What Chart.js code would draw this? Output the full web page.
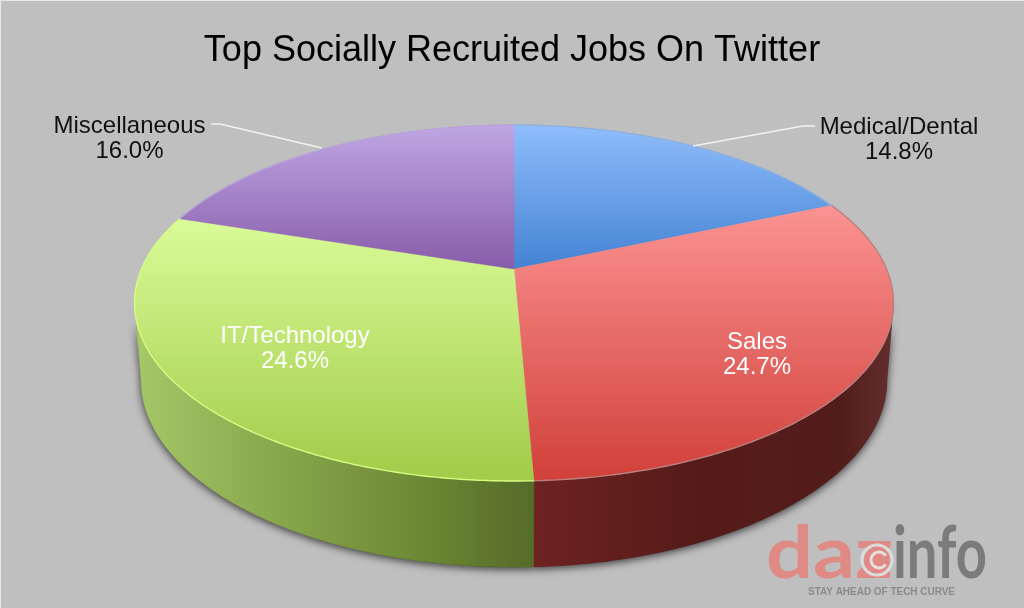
<!DOCTYPE html>
<html><head><meta charset="utf-8">
<style>html,body{margin:0;padding:0;background:#e8e8e8;overflow:hidden}canvas{display:block}</style>
<script src="https://cdn.jsdelivr.net/npm/chart.js@4"></script>
</head><body><canvas id="c" width="1024" height="608"></canvas>
<script>
const categories = ["Medical/Dental", "Sales", "IT/Technology", "Miscellaneous"];
const shares = [14.8, 24.7, 24.6, 16.0];
const chartTitle = "Top Socially Recruited Jobs On Twitter";
const faceColors = [["#90bdfc", "#4382d2"], ["#fb9392", "#d1403a"], ["#dafb98", "#a1cb49"], ["#bfa6e4", "#885ca9"]];
const rimColors = ["#8fb0dc", "#b98080", "#d6fb82", "#b8a3d8"];
const wallStops = [
  [[0, "#3b6aa8"], [1, "#2b4f80"]],
  [[0, "#6e2222"], [0.45, "#561b19"], [0.85, "#521c1a"], [1, "#642e2c"]],
  [[0, "#a6c869"], [0.3, "#8dac50"], [0.7, "#6e8a35"], [1, "#556b29"]],
  [[0, "#6a4a88"], [1, "#4e3568"]]
];

// perspective of the disc: top face and bottom face of the extruded pie
const K = 0.191;
const TOP = { cx: 514, cy: 269, a: 372.5, b: 171.5 };
const BOT = { cx: 514, cy: 344.3, a: 366, b: 180.2 };
function proj(F, ang, r) {
  const u = Math.cos(ang) * r, v = Math.sin(ang) * r, d = 1 - K * v;
  return [F.cx + F.a * u / d, F.cy + F.b * v / d];
}
function arcPts(F, s, e) {
  const n = Math.max(2, Math.ceil((e - s) / 0.01)), p = [];
  for (let i = 0; i <= n; i++) p.push(proj(F, s + (e - s) * i / n, 1));
  return p;
}
function trace(ctx, pts) { pts.forEach((q, i) => i ? ctx.lineTo(q[0], q[1]) : ctx.moveTo(q[0], q[1])); }
function stretched(c, text, x, y, width) {
  const w = c.measureText(text).width;
  c.save(); c.translate(x, y); c.scale(width / w, 1); c.fillText(text, 0, 0); c.restore();
}

const FULL_W = 1024, FULL_H = 608;
const labelInfo = [
  { x: 899, y: 125.5, color: "#111" },
  { x: 757, y: 341, color: "#fff" },
  { x: 295, y: 335, color: "#fff" },
  { x: 129.5, y: 124.5, color: "#111" }
];
const leaders = [
  [[815, 126], [803, 126], [693, 146]],
  null, null,
  [[211, 124], [220, 124], [322, 148]]
];
const FONT = '"Liberation Sans", Arial, sans-serif';

const pie3d = {
  id: "pie3d",
  beforeDraw(chart) {
    const c = chart.ctx;
    c.save();
    c.fillStyle = "#bfbfbf";
    c.fillRect(1, 1, FULL_W, FULL_H);
    c.restore();
  },
  beforeDatasetsDraw(chart) {
    const c = chart.ctx, arcs = chart.getDatasetMeta(0).data;
    const front0 = Math.asin(K), front1 = Math.PI - Math.asin(K);
    const walls = arcs.map(el => {
      const a0 = Math.max(el.startAngle, front0), a1 = Math.min(el.endAngle, front1);
      if (a1 <= a0) return null;
      return { top: arcPts(TOP, a0, a1), bot: arcPts(BOT, a0, a1) };
    });
    // soft shadow under the body
    c.save();
    c.shadowColor = "rgba(0,0,0,0.75)";
    c.shadowBlur = 9;
    c.shadowOffsetX = 0;
    c.shadowOffsetY = 2;
    c.fillStyle = "#333";
    walls.forEach(w => {
      if (!w) return;
      c.beginPath(); trace(c, w.top.concat(w.bot.slice().reverse())); c.closePath(); c.fill();
    });
    c.restore();
    // side walls
    walls.forEach((w, i) => {
      if (!w) return;
      const xs = w.top.concat(w.bot).map(q => q[0]);
      const g = c.createLinearGradient(Math.min(...xs), 0, Math.max(...xs), 0);
      wallStops[i].forEach(st => g.addColorStop(st[0], st[1]));
      c.fillStyle = g;
      c.strokeStyle = g;
      c.lineWidth = 0.6;
      c.beginPath(); trace(c, w.top.concat(w.bot.slice().reverse())); c.closePath(); c.fill(); c.stroke();
    });
    // top faces
    arcs.forEach((el, i) => {
      const pts = arcPts(TOP, el.startAngle, el.endAngle);
      const hub = proj(TOP, 0, 0);
      const ys = pts.map(q => q[1]).concat(hub[1]);
      const g = c.createLinearGradient(0, Math.min(...ys), 0, Math.max(...ys));
      g.addColorStop(0, faceColors[i][0]);
      g.addColorStop(1, faceColors[i][1]);
      c.fillStyle = g;
      c.strokeStyle = g;
      c.lineWidth = 0.5;
      c.beginPath(); trace(c, [hub].concat(pts)); c.closePath(); c.fill(); c.stroke();
    });
    arcs.forEach((el, i) => {
      c.strokeStyle = rimColors[i];
      c.lineWidth = 1.4;
      c.beginPath(); trace(c, arcPts(TOP, el.startAngle, el.endAngle)); c.stroke();
    });
    return false;
  },
  afterDraw(chart) {
    const c = chart.ctx, data = chart.data.datasets[0].data;
    c.save();
    c.strokeStyle = "#f2f2f2";
    c.lineWidth = 1.5;
    leaders.forEach(l => { if (l) { c.beginPath(); trace(c, l); c.stroke(); } });
    c.textAlign = "center";
    c.textBaseline = "alphabetic";
    c.font = "24px " + FONT;
    chart.data.labels.forEach((t, i) => {
      const L = labelInfo[i];
      c.fillStyle = L.color;
      c.fillText(t, L.x, L.y + 8);
      c.fillText(data[i].toFixed(1) + "%", L.x, L.y + 33);
    });
    // watermark
    c.textAlign = "left";
    c.font = 'bold 72px Lato, "Noto Sans", sans-serif';
    c.fillStyle = "#e08a86";
    stretched(c, "daz", 766, 578, 127);
    c.fillStyle = "#7b7b7b";
    stretched(c, "info", 893, 578, 94);
    c.beginPath(); c.arc(877, 560, 13, 0, 7); c.fillStyle = "#e08a86"; c.fill();
    c.beginPath(); c.arc(877, 560, 15, 0, 7); c.strokeStyle = "#dcdcdc"; c.lineWidth = 3; c.stroke();
    c.beginPath(); c.arc(879, 560, 8, 0.6, 5.7); c.strokeStyle = "#e8e0df"; c.lineWidth = 3; c.stroke();
    c.font = 'bold 10px "Liberation Sans", sans-serif';
    c.fillStyle = "#8a8a8a";
    stretched(c, "STAY AHEAD OF TECH CURVE", 808, 595, 147);
    c.restore();
  }
};

new Chart(document.getElementById("c"), {
  type: "pie",
  data: { labels: categories, datasets: [{ data: shares, backgroundColor: faceColors.map(f => f[1]), borderWidth: 0 }] },
  options: {
    responsive: false,
    animation: false,
    layout: { padding: 0 },
    plugins: {
      legend: { display: false },
      tooltip: { enabled: false },
      title: {
        display: true, text: chartTitle, color: "#000",
        font: { family: FONT, size: 36, weight: "normal" },
        padding: { top: 29, bottom: 10 }
      }
    }
  },
  plugins: [pie3d]
});
</script></body></html>
